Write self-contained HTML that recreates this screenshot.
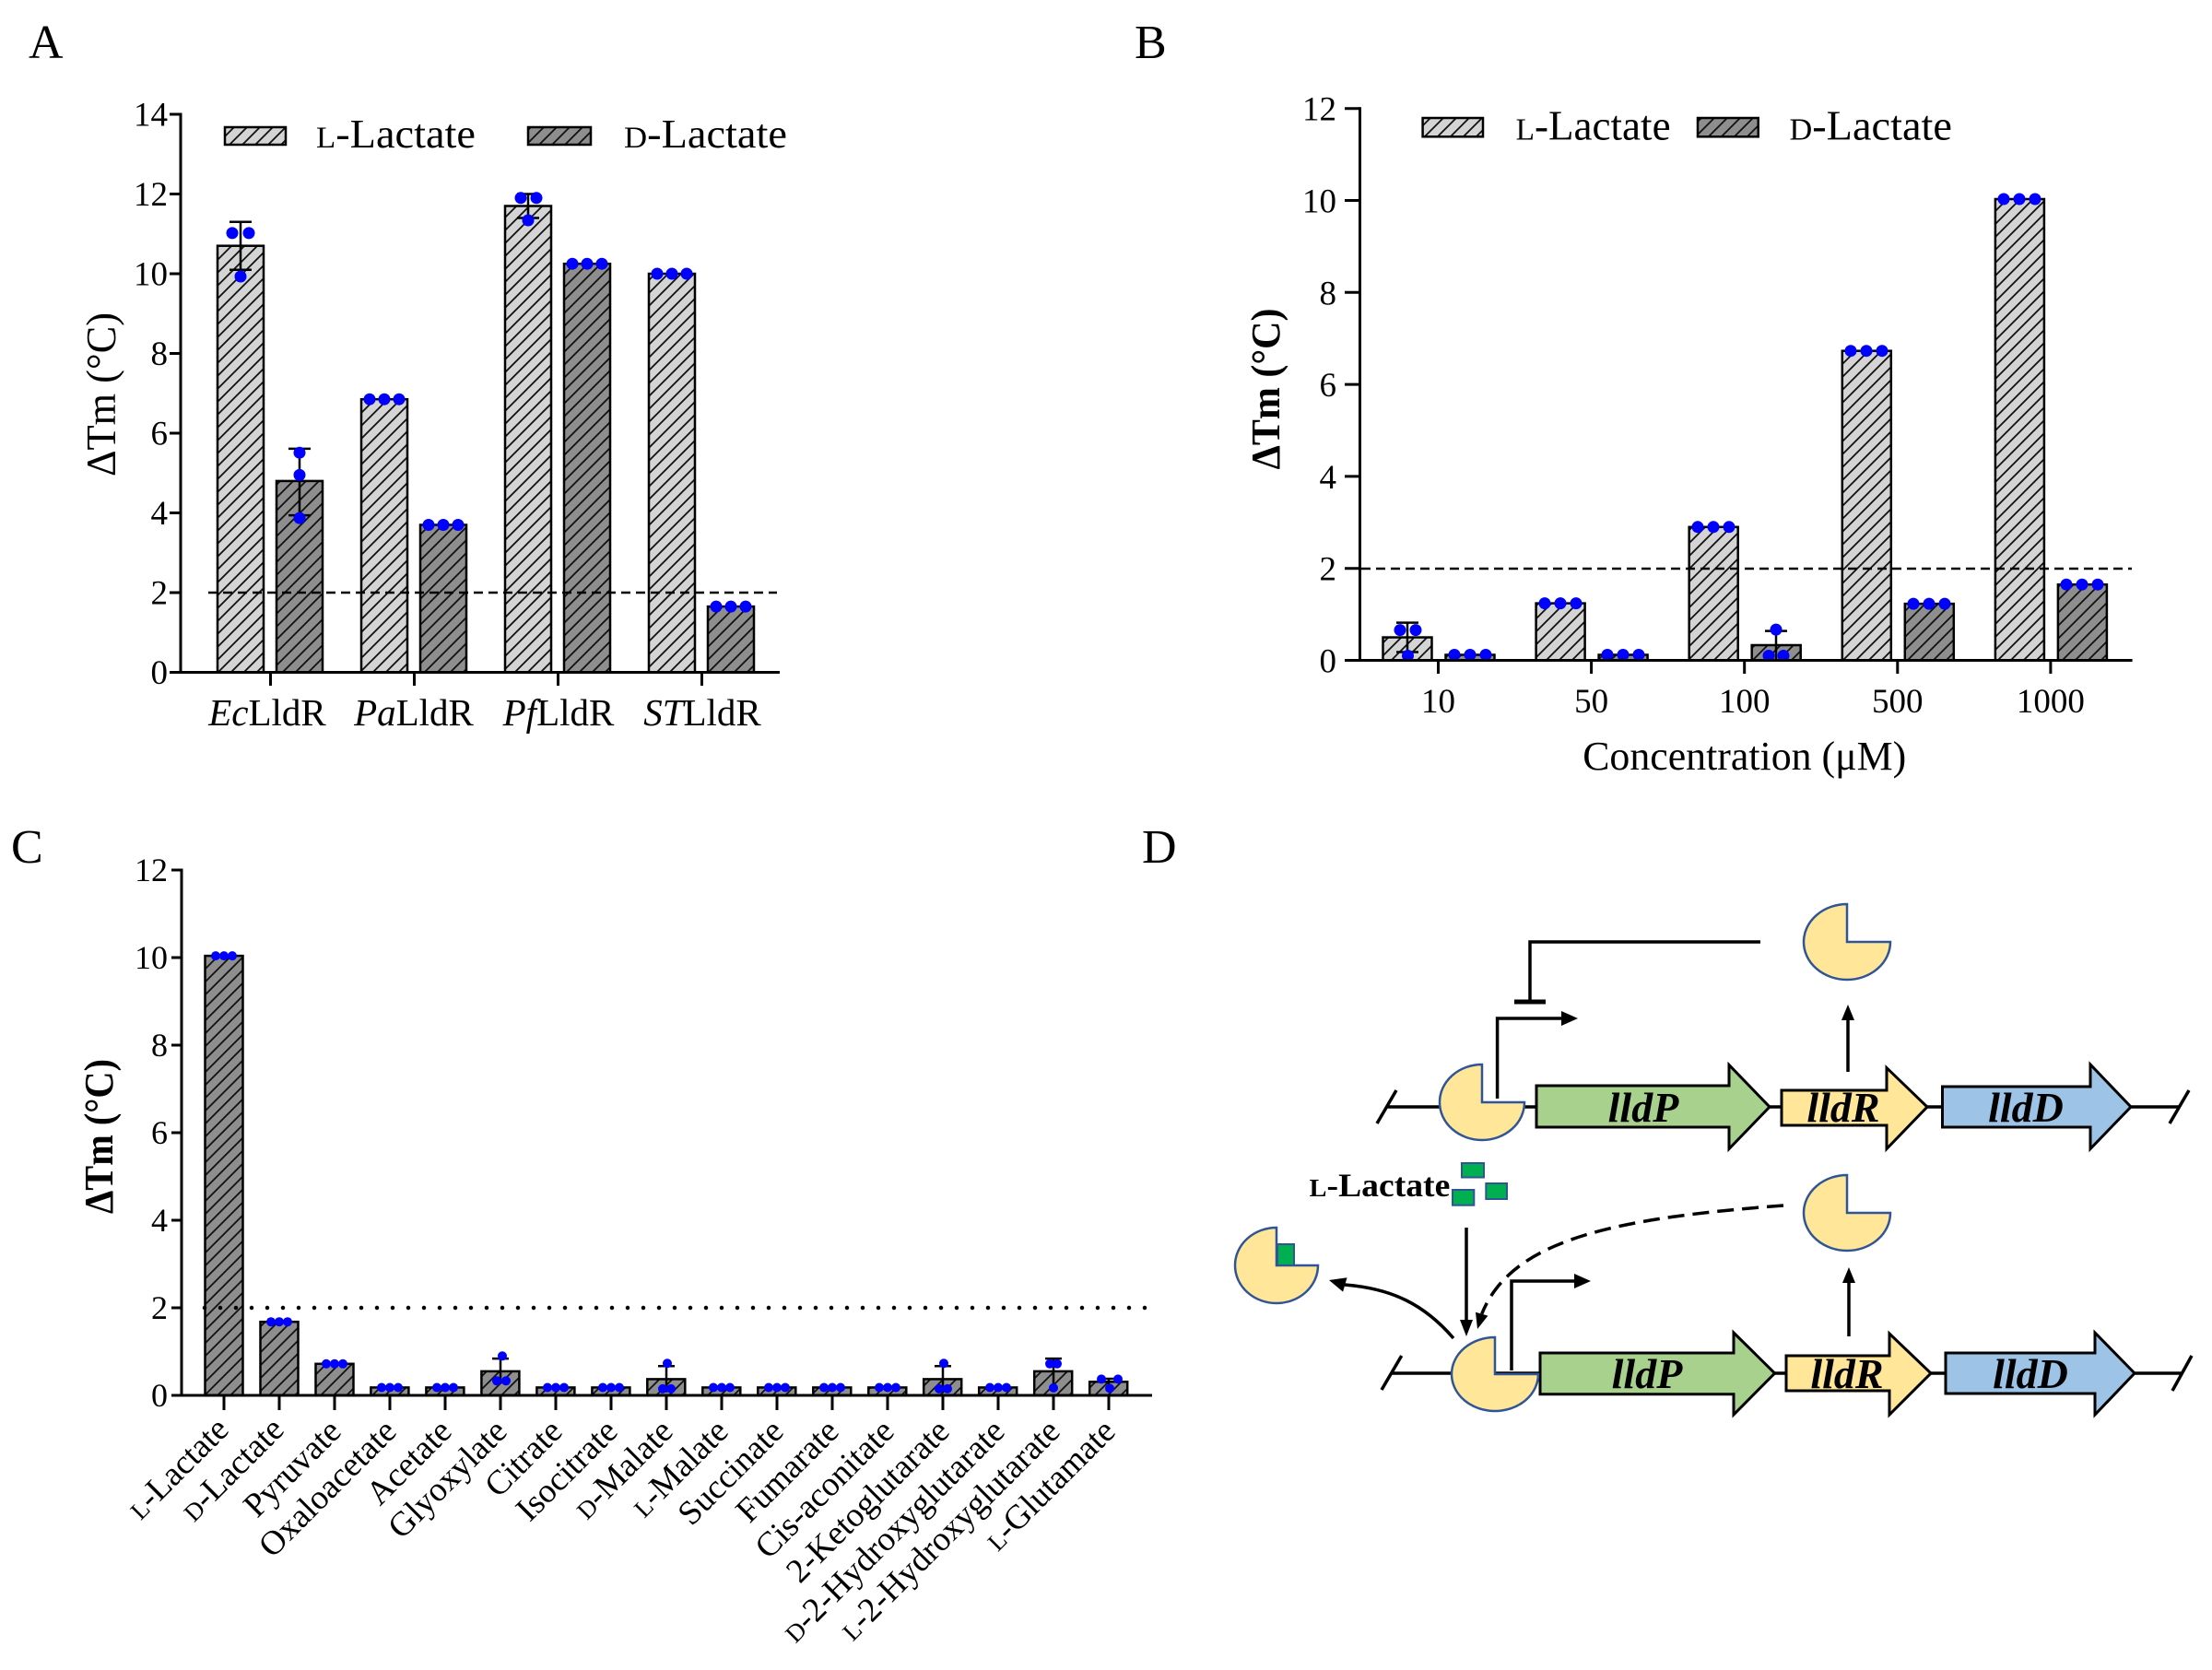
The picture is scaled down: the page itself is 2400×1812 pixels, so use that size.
<!DOCTYPE html>
<html><head><meta charset="utf-8"><style>
html,body{margin:0;padding:0;background:#fff;}
svg{display:block;font-family:"Liberation Serif","Times New Roman",serif;}
</style></head><body>
<svg width="2400" height="1812" viewBox="0 0 2400 1812" xmlns="http://www.w3.org/2000/svg">
<defs>
<pattern id="pl" patternUnits="userSpaceOnUse" width="14" height="14">
<rect width="14" height="14" fill="#d4d4d4"/>
<path d="M-3.5,3.5 L3.5,-3.5 M0,14 L14,0 M10.5,17.5 L17.5,10.5" stroke="#111" stroke-width="1.8"/>
</pattern>
<pattern id="pd" patternUnits="userSpaceOnUse" width="14" height="14">
<rect width="14" height="14" fill="#8e8e8e"/>
<path d="M-3.5,3.5 L3.5,-3.5 M0,14 L14,0 M10.5,17.5 L17.5,10.5" stroke="#111" stroke-width="1.8"/>
</pattern>
</defs>
<rect width="2400" height="1812" fill="#fff"/>

<!-- Panel letters -->
<g font-size="52" fill="#000">
<text x="31" y="63">A</text>
<text x="1231" y="63">B</text>
<text x="12" y="936">C</text>
<text x="1239" y="936">D</text>
</g>

<!-- ================= PANEL A ================= -->
<g stroke="#000" stroke-width="2.5">
<rect x="236" y="266.7" width="50" height="462.8" fill="url(#pl)"/>
<rect x="300" y="521.9" width="50" height="207.6" fill="url(#pd)"/>
<rect x="392" y="433.2" width="50" height="296.3" fill="url(#pl)"/>
<rect x="456" y="569.5" width="50" height="160" fill="url(#pd)"/>
<rect x="548" y="223.5" width="50" height="506" fill="url(#pl)"/>
<rect x="612" y="286.2" width="50" height="443.3" fill="url(#pd)"/>
<rect x="704" y="297" width="50" height="432.5" fill="url(#pl)"/>
<rect x="768" y="658.1" width="50" height="71.4" fill="url(#pd)"/>
</g>
<line x1="226" y1="643" x2="843" y2="643" stroke="#000" stroke-width="2.5" stroke-dasharray="10 6"/>
<g stroke="#000" stroke-width="2.5">
<line x1="261" y1="240.8" x2="261" y2="292.7"/><line x1="249" y1="240.8" x2="273" y2="240.8"/><line x1="249" y1="292.7" x2="273" y2="292.7"/>
<line x1="325" y1="486.9" x2="325" y2="559.1"/><line x1="313" y1="486.9" x2="337" y2="486.9"/><line x1="313" y1="559.1" x2="337" y2="559.1"/>
<line x1="573" y1="210.5" x2="573" y2="236.5"/><line x1="561" y1="210.5" x2="585" y2="210.5"/><line x1="561" y1="236.5" x2="585" y2="236.5"/>
</g>
<g fill="#0000ff">
<circle cx="252" cy="252.9" r="6.5"/><circle cx="270" cy="252.9" r="6.5"/><circle cx="261" cy="300" r="6.5"/>
<circle cx="325" cy="491.2" r="6.5"/><circle cx="325" cy="515.4" r="6.5"/><circle cx="325" cy="562.1" r="6.5"/>
<circle cx="401" cy="433.2" r="6.5"/><circle cx="417" cy="433.2" r="6.5"/><circle cx="433" cy="433.2" r="6.5"/>
<circle cx="465" cy="569.5" r="6.5"/><circle cx="481" cy="569.5" r="6.5"/><circle cx="497" cy="569.5" r="6.5"/>
<circle cx="565" cy="214.8" r="6.5"/><circle cx="582" cy="214.8" r="6.5"/><circle cx="573" cy="239" r="6.5"/>
<circle cx="621" cy="286.2" r="6.5"/><circle cx="637" cy="286.2" r="6.5"/><circle cx="653" cy="286.2" r="6.5"/>
<circle cx="713" cy="297" r="6.5"/><circle cx="729" cy="297" r="6.5"/><circle cx="745" cy="297" r="6.5"/>
<circle cx="777" cy="658.1" r="6.5"/><circle cx="793" cy="658.1" r="6.5"/><circle cx="809" cy="658.1" r="6.5"/>
</g>
<g stroke="#000" stroke-width="3">
<line x1="196" y1="122.5" x2="196" y2="731"/>
<line x1="194.5" y1="729.5" x2="846" y2="729.5"/>
<line x1="184" y1="124" x2="196" y2="124"/><line x1="184" y1="210.5" x2="196" y2="210.5"/>
<line x1="184" y1="297" x2="196" y2="297"/><line x1="184" y1="383.5" x2="196" y2="383.5"/>
<line x1="184" y1="470" x2="196" y2="470"/><line x1="184" y1="556.5" x2="196" y2="556.5"/>
<line x1="184" y1="643" x2="196" y2="643"/><line x1="184" y1="729.5" x2="196" y2="729.5"/>
<line x1="293.5" y1="729.5" x2="293.5" y2="744"/><line x1="449.5" y1="729.5" x2="449.5" y2="744"/>
<line x1="605.5" y1="729.5" x2="605.5" y2="744"/><line x1="761.5" y1="729.5" x2="761.5" y2="744"/>
</g>
<g font-size="37" text-anchor="end">
<text x="182" y="136.5">14</text><text x="182" y="223">12</text><text x="182" y="309.5">10</text>
<text x="182" y="396">8</text><text x="182" y="482.5">6</text><text x="182" y="569">4</text>
<text x="182" y="655.5">2</text><text x="182" y="742">0</text>
</g>
<g font-size="41" text-anchor="middle">
<text x="290" y="787"><tspan font-style="italic">Ec</tspan>LldR</text>
<text x="449" y="787"><tspan font-style="italic">Pa</tspan>LldR</text>
<text x="606" y="787"><tspan font-style="italic">Pf</tspan>LldR</text>
<text x="762" y="787"><tspan font-style="italic">ST</tspan>LldR</text>
</g>
<text transform="translate(125,428) rotate(-90)" text-anchor="middle" font-size="46" textLength="178" lengthAdjust="spacingAndGlyphs">ΔTm (°C)</text>
<rect x="244" y="138" width="66" height="19" fill="url(#pl)" stroke="#000" stroke-width="2.5"/>
<rect x="573" y="138" width="68" height="19" fill="url(#pd)" stroke="#000" stroke-width="2.5"/>
<text x="343" y="160" font-size="44" textLength="173" lengthAdjust="spacingAndGlyphs"><tspan font-size="33">L</tspan>-Lactate</text>
<text x="677" y="160" font-size="44" textLength="177" lengthAdjust="spacingAndGlyphs"><tspan font-size="33">D</tspan>-Lactate</text>

<!-- ================= PANEL B ================= -->
<g stroke="#000" stroke-width="2.5">
<rect x="1500.5" y="691.55" width="53" height="24.95" fill="url(#pl)"/>
<rect x="1568.5" y="710.5" width="53" height="6" fill="url(#pd)"/>
<rect x="1666.6" y="654.6" width="53" height="61.9" fill="url(#pl)"/>
<rect x="1734.6" y="710.5" width="53" height="6" fill="url(#pd)"/>
<rect x="1832.7" y="571.8" width="53" height="144.7" fill="url(#pl)"/>
<rect x="1900.7" y="700" width="53" height="16.5" fill="url(#pd)"/>
<rect x="1998.8" y="380.7" width="53" height="335.8" fill="url(#pl)"/>
<rect x="2066.8" y="655.1" width="53" height="61.4" fill="url(#pd)"/>
<rect x="2164.9" y="216" width="53" height="500.5" fill="url(#pl)"/>
<rect x="2232.9" y="634.2" width="53" height="82.3" fill="url(#pd)"/>
</g>
<line x1="1477" y1="617" x2="2313" y2="617" stroke="#000" stroke-width="2.5" stroke-dasharray="10 6"/>
<g stroke="#000" stroke-width="2.5">
<line x1="1527" y1="675.6" x2="1527" y2="707.5"/><line x1="1515" y1="675.6" x2="1539" y2="675.6"/><line x1="1515" y1="707.5" x2="1539" y2="707.5"/>
<line x1="1927" y1="684.6" x2="1927" y2="715.5"/><line x1="1915" y1="684.6" x2="1939" y2="684.6"/>
</g>
<g fill="#0000ff">
<circle cx="1519" cy="683.6" r="6.5"/><circle cx="1536" cy="683.6" r="6.5"/><circle cx="1527.5" cy="711.5" r="6.5"/>
<circle cx="1578" cy="710.5" r="6.5"/><circle cx="1595" cy="710.5" r="6.5"/><circle cx="1612" cy="710.5" r="6.5"/>
<circle cx="1676" cy="654.6" r="6.5"/><circle cx="1693" cy="654.6" r="6.5"/><circle cx="1710" cy="654.6" r="6.5"/>
<circle cx="1744" cy="710.5" r="6.5"/><circle cx="1761" cy="710.5" r="6.5"/><circle cx="1778" cy="710.5" r="6.5"/>
<circle cx="1842" cy="571.8" r="6.5"/><circle cx="1859" cy="571.8" r="6.5"/><circle cx="1876" cy="571.8" r="6.5"/>
<circle cx="1927" cy="683.1" r="6.5"/><circle cx="1919" cy="711.5" r="6.5"/><circle cx="1935" cy="711.5" r="6.5"/>
<circle cx="2008" cy="380.7" r="6.5"/><circle cx="2025" cy="380.7" r="6.5"/><circle cx="2042" cy="380.7" r="6.5"/>
<circle cx="2076" cy="655.1" r="6.5"/><circle cx="2093" cy="655.1" r="6.5"/><circle cx="2110" cy="655.1" r="6.5"/>
<circle cx="2174" cy="216" r="6.5"/><circle cx="2191" cy="216" r="6.5"/><circle cx="2208" cy="216" r="6.5"/>
<circle cx="2242" cy="634.2" r="6.5"/><circle cx="2259" cy="634.2" r="6.5"/><circle cx="2276" cy="634.2" r="6.5"/>
</g>
<g stroke="#000" stroke-width="3">
<line x1="1475.5" y1="116.2" x2="1475.5" y2="718"/>
<line x1="1474" y1="716.5" x2="2313.6" y2="716.5"/>
<line x1="1459" y1="117.7" x2="1475.5" y2="117.7"/><line x1="1459" y1="217.5" x2="1475.5" y2="217.5"/>
<line x1="1459" y1="317.3" x2="1475.5" y2="317.3"/><line x1="1459" y1="417.1" x2="1475.5" y2="417.1"/>
<line x1="1459" y1="516.9" x2="1475.5" y2="516.9"/><line x1="1459" y1="616.7" x2="1475.5" y2="616.7"/>
<line x1="1459" y1="716.5" x2="1475.5" y2="716.5"/>
<line x1="1560.5" y1="716.5" x2="1560.5" y2="731"/><line x1="1726.6" y1="716.5" x2="1726.6" y2="731"/>
<line x1="1892.7" y1="716.5" x2="1892.7" y2="731"/><line x1="2058.8" y1="716.5" x2="2058.8" y2="731"/>
<line x1="2224.9" y1="716.5" x2="2224.9" y2="731"/>
</g>
<g font-size="37" text-anchor="end">
<text x="1450" y="130.7">12</text><text x="1450" y="230.5">10</text><text x="1450" y="330.3">8</text>
<text x="1450" y="430.1">6</text><text x="1450" y="529.9">4</text><text x="1450" y="629.7">2</text>
<text x="1450" y="729.5">0</text>
</g>
<g font-size="37" text-anchor="middle">
<text x="1560.5" y="773">10</text><text x="1726.6" y="773">50</text><text x="1892.7" y="773">100</text>
<text x="2058.8" y="773">500</text><text x="2224.9" y="773">1000</text>
</g>
<text x="1892.7" y="835" text-anchor="middle" font-size="44" textLength="351" lengthAdjust="spacingAndGlyphs">Concentration (μM)</text>
<text transform="translate(1388,422) rotate(-90)" text-anchor="middle" font-size="44" font-weight="bold" textLength="175" lengthAdjust="spacingAndGlyphs">ΔTm (°C)</text>
<rect x="1543.6" y="128" width="65.4" height="20.3" fill="url(#pl)" stroke="#000" stroke-width="2.5"/>
<rect x="1842" y="128" width="65.7" height="20.3" fill="url(#pd)" stroke="#000" stroke-width="2.5"/>
<text x="1644.6" y="151.5" font-size="46" textLength="168" lengthAdjust="spacingAndGlyphs"><tspan font-size="34">L</tspan>-Lactate</text>
<text x="1941.5" y="151.5" font-size="46" textLength="176.5" lengthAdjust="spacingAndGlyphs"><tspan font-size="34">D</tspan>-Lactate</text>

<!-- ================= PANEL C ================= -->
<g stroke="#000" stroke-width="2.5" fill="url(#pd)">
<rect x="222.5" y="1037.1" width="41" height="476.9"/>
<rect x="282.5" y="1434.2" width="41" height="79.8"/>
<rect x="342.5" y="1479.8" width="41" height="34.2"/>
<rect x="402.4" y="1505.45" width="41" height="8.55"/>
<rect x="462.4" y="1505.45" width="41" height="8.55"/>
<rect x="522.4" y="1487.9" width="41" height="26.1"/>
<rect x="582.4" y="1505.45" width="41" height="8.55"/>
<rect x="642.4" y="1505.45" width="41" height="8.55"/>
<rect x="702.3" y="1496.4" width="41" height="17.6"/>
<rect x="762.3" y="1505.45" width="41" height="8.55"/>
<rect x="822.3" y="1505.45" width="41" height="8.55"/>
<rect x="882.3" y="1505.45" width="41" height="8.55"/>
<rect x="942.3" y="1505.45" width="41" height="8.55"/>
<rect x="1002.2" y="1496.4" width="41" height="17.6"/>
<rect x="1062.2" y="1505.45" width="41" height="8.55"/>
<rect x="1122.2" y="1487.9" width="41" height="26.1"/>
<rect x="1182.2" y="1499.3" width="41" height="14.7"/>
</g>
<line x1="222" y1="1419" x2="1250" y2="1419" stroke="#000" stroke-width="4.5" stroke-linecap="round" stroke-dasharray="0 17"/>
<g stroke="#000" stroke-width="2.5">
<line x1="543" y1="1474.1" x2="543" y2="1501.6"/><line x1="534" y1="1474.1" x2="552" y2="1474.1"/>
<line x1="723" y1="1482.2" x2="723" y2="1510.7"/><line x1="714" y1="1482.2" x2="732" y2="1482.2"/>
<line x1="1023" y1="1482.2" x2="1023" y2="1510.7"/><line x1="1014" y1="1482.2" x2="1032" y2="1482.2"/>
<line x1="1143" y1="1474.1" x2="1143" y2="1501.6"/><line x1="1134" y1="1474.1" x2="1152" y2="1474.1"/>
<line x1="1203" y1="1496" x2="1203" y2="1502.6"/><line x1="1194" y1="1496" x2="1212" y2="1496"/>
</g>
<g fill="#0000ff">
<circle cx="234" cy="1037.1" r="5"/><circle cx="243" cy="1037.1" r="5"/><circle cx="252" cy="1037.1" r="5"/>
<circle cx="294" cy="1434.2" r="5"/><circle cx="303" cy="1434.2" r="5"/><circle cx="312" cy="1434.2" r="5"/>
<circle cx="354" cy="1479.8" r="5"/><circle cx="363" cy="1479.8" r="5"/><circle cx="372" cy="1479.8" r="5"/>
<circle cx="414" cy="1505.5" r="5"/><circle cx="423" cy="1505.5" r="5"/><circle cx="432" cy="1505.5" r="5"/>
<circle cx="474" cy="1505.5" r="5"/><circle cx="483" cy="1505.5" r="5"/><circle cx="492" cy="1505.5" r="5"/>
<circle cx="545" cy="1471.3" r="5"/><circle cx="539" cy="1498.3" r="5"/><circle cx="549" cy="1498.3" r="5"/>
<circle cx="594" cy="1505.5" r="5"/><circle cx="603" cy="1505.5" r="5"/><circle cx="612" cy="1505.5" r="5"/>
<circle cx="654" cy="1505.5" r="5"/><circle cx="663" cy="1505.5" r="5"/><circle cx="672" cy="1505.5" r="5"/>
<circle cx="724" cy="1479.3" r="5"/><circle cx="719" cy="1506.9" r="5"/><circle cx="728" cy="1506.9" r="5"/>
<circle cx="774" cy="1505.5" r="5"/><circle cx="783" cy="1505.5" r="5"/><circle cx="792" cy="1505.5" r="5"/>
<circle cx="834" cy="1505.5" r="5"/><circle cx="843" cy="1505.5" r="5"/><circle cx="852" cy="1505.5" r="5"/>
<circle cx="894" cy="1505.5" r="5"/><circle cx="903" cy="1505.5" r="5"/><circle cx="912" cy="1505.5" r="5"/>
<circle cx="954" cy="1505.5" r="5"/><circle cx="963" cy="1505.5" r="5"/><circle cx="972" cy="1505.5" r="5"/>
<circle cx="1024" cy="1479.3" r="5"/><circle cx="1019" cy="1506.9" r="5"/><circle cx="1028" cy="1506.9" r="5"/>
<circle cx="1074" cy="1505.5" r="5"/><circle cx="1083" cy="1505.5" r="5"/><circle cx="1092" cy="1505.5" r="5"/>
<circle cx="1139" cy="1479.8" r="5"/><circle cx="1147" cy="1479.8" r="5"/><circle cx="1143" cy="1505.9" r="5"/>
<circle cx="1195" cy="1496.4" r="5"/><circle cx="1213" cy="1496.4" r="5"/><circle cx="1204" cy="1506.4" r="5"/>
</g>
<g stroke="#000" stroke-width="3">
<line x1="197" y1="942.5" x2="197" y2="1515.5"/>
<line x1="195.5" y1="1514" x2="1250" y2="1514"/>
<line x1="186" y1="944" x2="197" y2="944"/><line x1="186" y1="1039" x2="197" y2="1039"/>
<line x1="186" y1="1134" x2="197" y2="1134"/><line x1="186" y1="1229" x2="197" y2="1229"/>
<line x1="186" y1="1324" x2="197" y2="1324"/><line x1="186" y1="1419" x2="197" y2="1419"/>
<line x1="186" y1="1514" x2="197" y2="1514"/>
<line x1="243" y1="1514" x2="243" y2="1530"/><line x1="303" y1="1514" x2="303" y2="1530"/>
<line x1="363" y1="1514" x2="363" y2="1530"/><line x1="423" y1="1514" x2="423" y2="1530"/>
<line x1="483" y1="1514" x2="483" y2="1530"/><line x1="543" y1="1514" x2="543" y2="1530"/>
<line x1="603" y1="1514" x2="603" y2="1530"/><line x1="663" y1="1514" x2="663" y2="1530"/>
<line x1="723" y1="1514" x2="723" y2="1530"/><line x1="783" y1="1514" x2="783" y2="1530"/>
<line x1="843" y1="1514" x2="843" y2="1530"/><line x1="903" y1="1514" x2="903" y2="1530"/>
<line x1="963" y1="1514" x2="963" y2="1530"/><line x1="1023" y1="1514" x2="1023" y2="1530"/>
<line x1="1083" y1="1514" x2="1083" y2="1530"/><line x1="1143" y1="1514" x2="1143" y2="1530"/>
<line x1="1203" y1="1514" x2="1203" y2="1530"/>
</g>
<g font-size="36" text-anchor="end">
<text x="182" y="956">12</text><text x="182" y="1051">10</text><text x="182" y="1146">8</text>
<text x="182" y="1241">6</text><text x="182" y="1336">4</text><text x="182" y="1431">2</text>
<text x="182" y="1526">0</text>
</g>
<g font-size="37" text-anchor="end">
<text transform="translate(250,1553) rotate(-45)"><tspan font-size="27">L</tspan>-Lactate</text>
<text transform="translate(310,1553) rotate(-45)"><tspan font-size="27">D</tspan>-Lactate</text>
<text transform="translate(372,1555) rotate(-45)">Pyruvate</text>
<text transform="translate(432,1555) rotate(-45)">Oxaloacetate</text>
<text transform="translate(492,1555) rotate(-45)">Acetate</text>
<text transform="translate(552,1555) rotate(-45)">Glyoxylate</text>
<text transform="translate(612,1555) rotate(-45)">Citrate</text>
<text transform="translate(672,1555) rotate(-45)">Isocitrate</text>
<text transform="translate(732,1555) rotate(-45)"><tspan font-size="27">D</tspan>-Malate</text>
<text transform="translate(792,1555) rotate(-45)"><tspan font-size="27">L</tspan>-Malate</text>
<text transform="translate(852,1555) rotate(-45)">Succinate</text>
<text transform="translate(912,1555) rotate(-45)">Fumarate</text>
<text transform="translate(972,1555) rotate(-45)">Cis-aconitate</text>
<text transform="translate(1032,1555) rotate(-45)">2-Ketoglutarate</text>
<text transform="translate(1092,1555) rotate(-45)"><tspan font-size="27">D</tspan>-2-Hydroxyglutarate</text>
<text transform="translate(1152,1555) rotate(-45)"><tspan font-size="27">L</tspan>-2-Hydroxyglutarate</text>
<text transform="translate(1212,1555) rotate(-45)"><tspan font-size="27">L</tspan>-Glutamate</text>
</g>
<text transform="translate(122,1233) rotate(-90)" text-anchor="middle" font-size="44" font-weight="bold" textLength="168" lengthAdjust="spacingAndGlyphs">ΔTm (°C)</text>

<!-- ================= PANEL D ================= -->
<g stroke="#000" stroke-width="3.5" fill="none">
<line x1="1505" y1="1201" x2="2364" y2="1201"/>
<line x1="1494" y1="1219" x2="1515" y2="1183"/>
<line x1="2354" y1="1219" x2="2375" y2="1183"/>
<line x1="1510" y1="1490" x2="2367" y2="1490"/>
<line x1="1499" y1="1508" x2="1520.7" y2="1471"/>
<line x1="2357" y1="1509" x2="2378" y2="1471"/>
</g>
<g stroke="#000" stroke-width="3">
<polygon points="1667,1178 1876,1178 1876,1155.5 1920,1201 1876,1246.5 1876,1223 1667,1223" fill="#a9d18e"/>
<polygon points="1933,1183 2047,1183 2047,1158.6 2091,1201 2047,1246.5 2047,1221 1933,1221" fill="#ffe699"/>
<polygon points="2107.5,1179 2268,1179 2268,1155 2312,1201 2268,1246.5 2268,1223 2107.5,1223" fill="#9dc3e6"/>
<polygon points="1671,1468 1881,1468 1881,1446 1925.6,1490 1881,1535 1881,1512.7 1671,1512.7" fill="#a9d18e"/>
<polygon points="1938,1471 2050,1471 2050,1447 2095,1490 2050,1535 2050,1509 1938,1509" fill="#ffe699"/>
<polygon points="2111,1468 2273,1468 2273,1446 2316,1490 2273,1535 2273,1512 2111,1512" fill="#9dc3e6"/>
</g>
<g font-size="46" font-weight="bold" font-style="italic" text-anchor="middle" fill="#000">
<text x="1783" y="1217">lldP</text>
<text x="2000" y="1217">lldR</text>
<text x="2198" y="1217">lldD</text>
<text x="1787" y="1506">lldP</text>
<text x="2004" y="1506">lldR</text>
<text x="2203" y="1506">lldD</text>
</g>
<g fill="#ffe699" stroke="#2f5597" stroke-width="2.5">
<path d="M1608,1196 L1608,1155 A46,41 0 1 0 1654,1196 Z"/>
<path d="M2004,1022 L2004,981 A47,41 0 1 0 2051,1022 Z"/>
<path d="M2004,1316 L2004,1275 A47,41 0 1 0 2051,1316 Z"/>
<path d="M1622,1491 L1622,1451 A47,40 0 1 0 1669,1491 Z"/>
<path d="M1385,1373 L1385,1332 A45,41 0 1 0 1430,1373 Z"/>
</g>
<g fill="#00b050" stroke="#2f5597" stroke-width="2">
<rect x="1386" y="1350" width="18" height="23"/>
<rect x="1586" y="1262" width="24" height="15.5"/>
<rect x="1612.3" y="1284" width="22.7" height="17"/>
<rect x="1576" y="1291" width="23.3" height="16.7"/>
</g>
<g stroke="#000" stroke-width="3.5" fill="none">
<polyline points="1624.6,1192 1624.6,1105 1696,1105"/>
<polyline points="1910,1022 1660,1022 1660,1087"/>
<polyline points="1640,1487 1640,1390 1710,1390"/>
<line x1="2005" y1="1163" x2="2005" y2="1104"/>
<line x1="2006" y1="1450" x2="2006" y2="1390"/>
<line x1="1591" y1="1332" x2="1591" y2="1434"/>
<path d="M1577,1452 C1545,1415 1510,1398 1459,1394"/>
<path d="M1935,1308 C1750,1322 1640,1345 1607.7,1425.7" stroke-dasharray="18 9"/>
</g>
<line x1="1643" y1="1087" x2="1677" y2="1087" stroke="#000" stroke-width="5"/>
<g fill="#000">
<polygon points="1712,1105 1694,1097 1694,1113"/>
<polygon points="1726,1390 1708,1382 1708,1398"/>
<polygon points="2005,1090 1998,1107 2012,1107"/>
<polygon points="2006,1375 1999,1392 2013,1392"/>
<polygon points="1591,1450 1584,1432 1598,1432"/>
<polygon points="1603,1442 1614.4,1427.6 1601,1423.8"/>
<polygon points="1442,1389 1461.5,1386.2 1457.1,1401.6"/>
</g>
<text x="1420.7" y="1298" font-size="36" font-weight="bold" textLength="152.6" lengthAdjust="spacingAndGlyphs"><tspan font-size="27">L</tspan>-Lactate</text>
</svg>
</body></html>
